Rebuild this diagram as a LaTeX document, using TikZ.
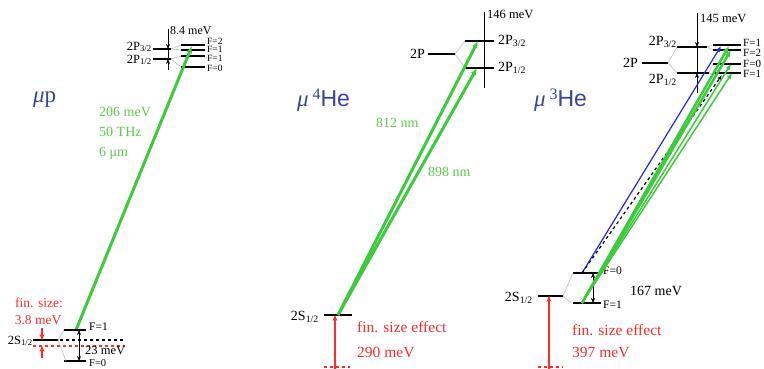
\documentclass[tikz,border=0pt]{standalone}
\usepackage{fontspec}
\setmainfont{Liberation Serif}
\newfontfamily\hefont{Liberation Sans}
\usetikzlibrary{arrows.meta}
\definecolor{lgreen}{HTML}{3CCB3C}
\definecolor{tgreen}{HTML}{5CCB4C}
\definecolor{lred}{HTML}{FF2A2A}
\definecolor{lblue}{HTML}{3A4592}
\definecolor{bblue}{HTML}{2626F0}
\tikzset{
  lev/.style={line width=1.8pt},
  conn/.style={gray!50, line width=0.6pt},
  trans/.style={lgreen, line width=3pt, -{Latex[length=7pt,width=6pt]}},
  thintrans/.style={lgreen, line width=1.5pt, -{Latex[length=6pt,width=5pt]}},
  dbl/.style={line width=1pt, {Stealth[length=5pt,width=4pt]}-{Stealth[length=5pt,width=4pt]}},
  sarr/.style={line width=1pt, -{Stealth[length=5pt,width=4pt]}},
  rarr/.style={lred, line width=1.2pt, -{Stealth[length=6pt,width=5pt]}},
  lab/.style={inner sep=0pt, font=\fontsize{14}{14}\selectfont},
  slab/.style={inner sep=0pt, font=\fontsize{12.5}{12.5}\selectfont},
  flab/.style={inner sep=0pt, font=\fontsize{11.5}{11.5}\selectfont, anchor=west},
  hlab/.style={inner sep=0pt, font=\fontsize{11}{11}\selectfont, anchor=west},
  tlab/.style={inner sep=0pt, font=\fontsize{9.5}{9.5}\selectfont, anchor=west},
  glab/.style={inner sep=0pt, text=tgreen, anchor=west, font=\fontsize{14}{14}\selectfont},
  rlab/.style={inner sep=0pt, text=lred, anchor=west, font=\fontsize{15.5}{15.5}\selectfont},
  title/.style={inner sep=0pt, text=lblue, font=\fontsize{23}{23}\selectfont},
}
\begin{document}
\begin{tikzpicture}[x=1pt,y=-1pt]
\useasboundingbox (0,0) rectangle (764,369);
%================ mu p =================
\node[title, anchor=west] (tp) at (33,100) {\itshape μ\upshape p};
% 2P levels
\draw[lev] (153,49) coordinate (p32L) -- (171,49) coordinate (p32R);
\draw[lev] (153,59) coordinate (p12L) -- (171,59) coordinate (p12R);
\node[slab, anchor=east] (lp32) at (152,47) {2P\textsubscript{3/2}};
\node[slab, anchor=east] (lp12) at (152,60) {2P\textsubscript{1/2}};
\coordinate (pvt) at (168,29);
\coordinate (pvb) at (168,70);
\draw[sarr] (pvt) -- (168,49);
\draw[sarr] (pvb) -- (168,59);
\draw[line width=1pt] (168,49) -- (168,59);
\node[inner sep=0pt, anchor=west, font=\fontsize{12}{12}\selectfont] (p84) at (170,31) {8.4 meV};
% hyperfine
\draw[lev] (181,45) coordinate (hf2) -- (205,45);
\draw[lev] (181,50) coordinate (hf1a) -- (205,50);
\draw[lev] (181,56) coordinate (hf1b) -- (205,56);
\draw[lev] (181,67) coordinate (hf0) -- (205,67);
\draw[conn] (p32R) -- (hf2); \draw[conn] (p32R) -- (hf1a);
\draw[conn] (p12R) -- (hf1b); \draw[conn] (p12R) -- (hf0);
\node[tlab] (pf2) at (207,41) {F=2};
\node[tlab] (pf1a) at (207,49.5) {F=1};
\node[tlab] (pf1b) at (207,58) {F=1};
\node[tlab] (pf0) at (207,68) {F=0};
% transition
\coordinate (ps1) at (76,330);
\coordinate (ptop) at (192,46);
\draw[trans] (ps1) -- (ptop);
\node[glab] (g1) at (99,112) {206 meV};
\node[glab] (g2) at (99,132) {50 THz};
\node[glab] (g3) at (99,153) {6 μm};
% 2S
\draw[lev] (33,340) coordinate (ps) -- (58,340) coordinate (psR);
\node[slab, anchor=east] (lps) at (33,341) {2S\textsubscript{1/2}};
\draw[dashed, line width=1.2pt] (60,340) -- (125,340);
\draw[dashed, lred, line width=1.2pt] (33,346) -- (125,346);
\draw[rarr] (42,328) -- (42,340);
\draw[rarr] (42,358) -- (42,346);
\node[inner sep=0pt, text=lred, font=\fontsize{13.5}{13.5}\selectfont] (fs1) at (39,303) {fin. size:};
\node[inner sep=0pt, text=lred, font=\fontsize{13.5}{13.5}\selectfont] (fs2) at (38,320) {3.8 meV};
\draw[lev] (64,330) coordinate (pF1) -- (86,330);
\draw[lev] (64,361) coordinate (pF0) -- (86,361);
\draw[conn] (psR) -- (pF1); \draw[conn] (psR) -- (66,361);
\draw[dbl] (79,330) -- (79,361);
\node[flab] (pF1l) at (89,327) {F=1};
\node[slab, anchor=west] (p23) at (85,350) {23 meV};
\node[inner sep=0pt, anchor=west, font=\fontsize{10.5}{10.5}\selectfont] (pF0l) at (89,363) {F=0};
%================ mu 4He =================
\node[title, anchor=west] (th4) at (297,100) {\itshape μ\upshape\,\raisebox{7pt}{\fontsize{16}{16}\selectfont 4}\hefont He};
\draw[lev] (428,54) coordinate (a2PL) -- (455,54) coordinate (a2PR);
\node[lab, anchor=east] (la2P) at (425,54) {2P};
\draw[lev] (465,41) coordinate (a32L) -- (494,41);
\draw[lev] (465,68) coordinate (a12L) -- (494,68);
\draw[conn] (a2PR) -- (a32L); \draw[conn] (a2PR) -- (a12L);
\draw[line width=0.8pt] (484,12) coordinate (avt) -- (484,88) coordinate (avb);
\node[slab, anchor=west] (a146) at (487,14) {146 meV};
\node[lab, anchor=west] (la32) at (498,41) {2P\textsubscript{3/2}};
\node[lab, anchor=west] (la12) at (498,68) {2P\textsubscript{1/2}};
\draw[lev] (324,315) coordinate (a2SL) -- (352,315);
\node[lab, anchor=east] (la2S) at (319,317) {2S\textsubscript{1/2}};
\coordinate (as) at (338,315);
\coordinate (at1) at (478,41);
\coordinate (at2) at (477,68);
\draw[trans] (as) -- (at1);
\draw[trans] (as) -- (at2);
\node[glab] (a812) at (376,123) {812 nm};
\node[glab] (a898) at (428,172) {898 nm};
\coordinate (arb) at (335,369);
\draw[rarr] (arb) -- (335,315);
\draw[dashed, lred, line width=1.2pt] (324,367) -- (350,367);
\node[rlab] (afs) at (357,327) {fin. size effect};
\node[rlab] (a290) at (357,352) {290 meV};
%================ mu 3He =================
\node[title, anchor=west] (th3) at (534,100) {\itshape μ\upshape\,\raisebox{7pt}{\fontsize{16}{16}\selectfont 3}\hefont He};
\draw[lev] (642,63) coordinate (b2PL) -- (668,63) coordinate (b2PR);
\node[lab, anchor=east] (lb2P) at (638,63) {2P};
\draw[lev] (677,47) coordinate (b32L) -- (707,47) coordinate (b32R);
\draw[lev] (677,73) coordinate (b12L) -- (709,73) coordinate (b12R);
\draw[conn] (b2PR) -- (b32L); \draw[conn] (b2PR) -- (b12L);
\node[lab, anchor=east] (lb32) at (677,42) {2P\textsubscript{3/2}};
\node[lab, anchor=east] (lb12) at (677,80) {2P\textsubscript{1/2}};
\coordinate (bvt) at (697,13);
\coordinate (bvb) at (697,93);
\draw[sarr] (bvt) -- (697,47);
\draw[sarr] (bvb) -- (697,73);
\draw[line width=1pt] (697,47) -- (697,73);
\node[slab, anchor=west] (b145) at (700,18) {145 meV};
% hyperfine 2P
\draw[lev] (713,45) coordinate (bh1) -- (741,45);
\draw[lev] (713,50) coordinate (bh2) -- (741,50);
\draw[lev] (713,64) coordinate (bh0) -- (741,64);
\draw[lev] (713,73) coordinate (bh1b) -- (741,73);
\draw[conn] (b32R) -- (bh1); \draw[conn] (b32R) -- (bh2);
\draw[conn] (b12R) -- (bh0); \draw[conn] (b12R) -- (bh1b);
\node[hlab] (bf1) at (743,42.5) {F=1};
\node[hlab] (bf2) at (743,52.5) {F=2};
\node[hlab] (bf0) at (743,63.5) {F=0};
\node[hlab] (bf1b) at (743,74) {F=1};
% 2S
\draw[lev] (538,296) coordinate (b2SL) -- (563,296) coordinate (b2SR);
\node[lab, anchor=east] (lb2S) at (533,298) {2S\textsubscript{1/2}};
\draw[lev] (573,273) coordinate (bF0) -- (599,273);
\draw[lev] (573,303) coordinate (bF1) -- (601,303);
\draw[conn] (b2SR) -- (bF0); \draw[conn] (b2SR) -- (571,303);
\draw[dbl] (593,273) -- (593,303);
\node[flab] (bF0l) at (603,271) {F=0};
\node[flab] (bF1l) at (603,305) {F=1};
\node[lab, anchor=west] (b167) at (630,291) {167 meV};
% transitions
\coordinate (bs0) at (582,273);
\coordinate (bs1) at (582,303);
\draw[bblue, line width=1.2pt, -{Latex[length=6pt,width=5pt]}] (bs0) -- (721,46);
\draw[dashed, line width=1.2pt, -{Latex[length=5pt,width=4pt]}] (bs0) -- (722,75);
\draw[trans, line width=2.5pt] (bs1) -- (729,46);
\draw[trans, line width=2.5pt] (bs1) -- (731,50);
\draw[thintrans] (bs1) -- (731,64);
\draw[thintrans] (bs1) -- (732,73);
\coordinate (brb) at (549,369);
\draw[rarr] (brb) -- (549,296);
\draw[dashed, lred, line width=1.2pt] (538,367) -- (563,367);
\node[rlab] (bfs) at (572,330) {fin. size effect};
\node[rlab] (b397) at (572,352) {397 meV};
\end{tikzpicture}
\end{document}
